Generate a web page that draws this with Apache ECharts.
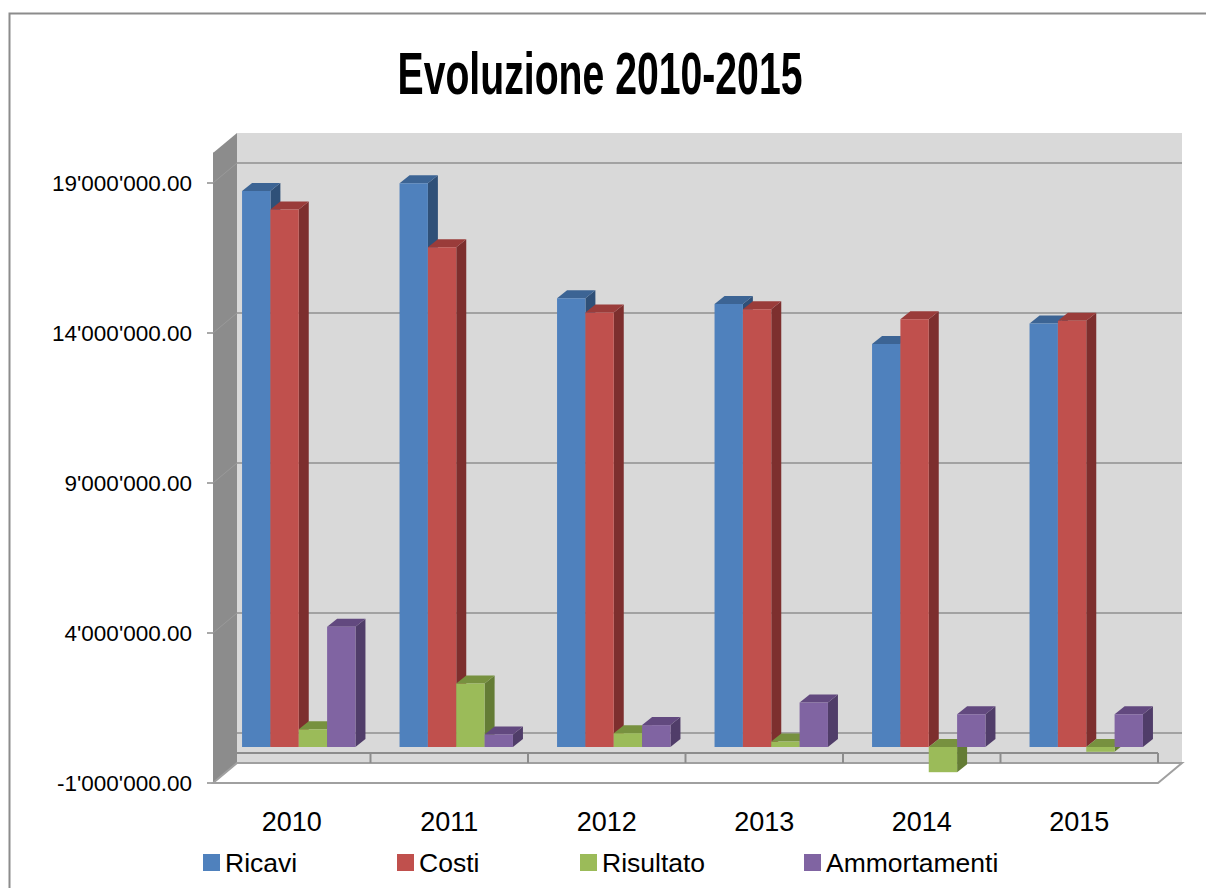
<!DOCTYPE html>
<html>
<head>
<meta charset="utf-8">
<title>Evoluzione 2010-2015</title>
<script src="https://cdn.jsdelivr.net/npm/echarts@6/dist/echarts.min.js"></script>
<style>
  html, body { margin: 0; padding: 0; background: #ffffff; }
  #chart { width: 1206px; height: 888px; }
</style>
</head>
<body>
<div id="chart"></div>
<script>
// ---- data ----
const TITLE = 'Evoluzione 2010-2015';
const YEARS = ['2010', '2011', '2012', '2013', '2014', '2015'];
const SERIES_NAMES = ['Ricavi', 'Costi', 'Risultato', 'Ammortamenti'];
const RICAVI = [18530000, 18790000, 14960000, 14770000, 13430000, 14120000];
const COSTI = [17920000, 16660000, 14480000, 14590000, 14260000, 14210000];
const RISULTATO = [590000, 2120000, 460000, 180000, -840000, -160000];
const AMMORTAMENTI = [4010000, 420000, 730000, 1480000, 1090000, 1090000];
const Y_TICKS = [-1000000, 4000000, 9000000, 14000000, 19000000];
const AXIS_MIN = -1000000;
const AXIS_MAX = 20000000;

const SERIES_VALUES = [RICAVI, COSTI, RISULTATO, AMMORTAMENTI];

// face colours: front, top, side
const FACES = [
  ['#4F81BD', '#3C6494', '#2F5078'],
  ['#C0504D', '#9A3C3A', '#7D2F2E'],
  ['#9BBB59', '#77913F', '#647C35'],
  ['#8064A2', '#62497F', '#503D69']
];

// 3D projection offsets (pixels)
const WALL_DX = 24, WALL_DY = -20;     // front plane -> back wall
const BAR_DX = 7, BAR_DY = -6;         // front plane -> bar front face
const BAR_DEPTH_DX = 10, BAR_DEPTH_DY = -8;

// pick a condensed face when it exists
function hasFont(name) {
  const ctx = document.createElement('canvas').getContext('2d');
  const sample = 'Ammortamenti 2010 Risultato';
  ctx.font = '40px monospace';
  const a = ctx.measureText(sample).width;
  ctx.font = '40px "' + name + '", monospace';
  const b = ctx.measureText(sample).width;
  return Math.abs(a - b) > 0.5;
}
const HAS_NARROW = hasFont('Liberation Sans Narrow');
const NARROW = HAS_NARROW ? '"Liberation Sans Narrow", "Liberation Sans", Arial, sans-serif'
                          : '"Liberation Sans", Arial, sans-serif';
const BASE = '"Liberation Sans", Arial, sans-serif';
const CAT_FONT = HAS_NARROW ? 31 : 27;
const LEGEND_FONT = HAS_NARROW ? 30 : 26.5;

function measure(font, text) {
  const ctx = document.createElement('canvas').getContext('2d');
  ctx.font = font;
  return ctx.measureText(text).width;
}
const TITLE_FONT_SIZE = 60;
const titleWidth = measure('bold ' + TITLE_FONT_SIZE + 'px "Liberation Sans", Arial, sans-serif', TITLE);
const TITLE_SCALE = 405 / titleWidth;

function fmtNumber(v) {
  const neg = v < 0;
  const s = Math.round(Math.abs(v)).toString().replace(/\B(?=(\d{3})+(?!\d))/g, "'");
  return (neg ? '-' : '') + s + '.00';
}

// ---- walls, floor, gridlines ----
function renderWalls(params, api) {
  const cs = params.coordSys;
  const L = cs.x, R = cs.x + cs.width;
  const yOf = v => api.coord([0, v])[1];
  const yMin = yOf(AXIS_MIN), yMax = yOf(AXIS_MAX), y0 = yOf(0);
  const band = cs.width / YEARS.length;
  const children = [];

  children.push({
    type: 'rect',
    shape: { x: L + WALL_DX, y: yMax + WALL_DY, width: R - L, height: yMin - yMax },
    style: { fill: '#D9D9D9' }
  });
  Y_TICKS.concat([0]).forEach(v => {
    const y = yOf(v) + WALL_DY;
    children.push({
      type: 'line',
      shape: { x1: L + WALL_DX, y1: y, x2: R + WALL_DX, y2: y },
      style: { stroke: '#8F8F8F', lineWidth: 1.6 }
    });
  });
  children.push({
    type: 'polygon',
    shape: { points: [[L, yMax], [L + WALL_DX, yMax + WALL_DY], [L + WALL_DX, yMin + WALL_DY], [L, yMin]] },
    style: { fill: '#8C8C8C' }
  });
  Y_TICKS.forEach(v => {
    const y = yOf(v);
    children.push({
      type: 'line',
      shape: { x1: L, y1: y, x2: L + WALL_DX, y2: y + WALL_DY },
      style: { stroke: '#9A9A9A', lineWidth: 1 }
    });
  });
  children.push({
    type: 'polygon',
    shape: { points: [[L, yMin], [L + WALL_DX, yMin + WALL_DY], [R + WALL_DX, yMin + WALL_DY], [R, yMin]] },
    style: { fill: '#FFFFFF', stroke: '#A0A0A0', lineWidth: 2 }
  });
  children.push({
    type: 'line',
    shape: { x1: L + 2, y1: y0, x2: R, y2: y0 },
    style: { stroke: '#8C8C8C', lineWidth: 2 }
  });
  for (let k = 1; k <= YEARS.length; k++) {
    const x = L + k * band;
    children.push({
      type: 'line',
      shape: { x1: x, y1: y0, x2: x, y2: y0 + 10 },
      style: { stroke: '#8C8C8C', lineWidth: 2 }
    });
  }
  return { type: 'group', children };
}

// ---- 3D columns ----
function makeBarRenderer(s) {
  const [front, top, side] = FACES[s];
  return function (params, api) {
    const i = api.value(0), v = api.value(1);
    const band = api.size([1, 0])[0];
    const bw = band * 0.18;
    const cx = api.coord([i, 0])[0];
    const yTop = api.coord([i, Math.max(v, 0)])[1] + BAR_DY;
    const yBot = api.coord([i, Math.min(v, 0)])[1] + BAR_DY;
    const x0 = cx - 2 * bw + s * bw + BAR_DX;
    const x1 = x0 + bw;
    const ddx = BAR_DEPTH_DX, ddy = BAR_DEPTH_DY;
    return {
      type: 'group',
      children: [
        { type: 'polygon', shape: { points: [[x1, yTop], [x1 + ddx, yTop + ddy], [x1 + ddx, yBot + ddy], [x1, yBot]] },
          style: { fill: side } },
        { type: 'polygon', shape: { points: [[x0, yTop], [x1, yTop], [x1 + ddx, yTop + ddy], [x0 + ddx, yTop + ddy]] },
          style: { fill: top } },
        { type: 'rect', shape: { x: x0, y: yTop, width: bw, height: Math.max(yBot - yTop, 0.5) },
          style: { fill: front } }
      ]
    };
  };
}

const LEGEND_LEFT = [203, 397, 580, 804];

const option = {
  backgroundColor: '#FFFFFF',
  animation: false,
  grid: { left: 213, right: 48, top: 153, bottom: 105, containLabel: false },
  xAxis: {
    type: 'category',
    data: YEARS,
    axisLine: { show: false },
    axisTick: { show: false },
    splitLine: { show: false },
    axisLabel: { color: '#000', fontFamily: NARROW, fontSize: CAT_FONT, margin: 25, lineHeight: CAT_FONT }
  },
  yAxis: {
    type: 'value',
    min: AXIS_MIN,
    max: AXIS_MAX,
    splitLine: { show: false },
    axisLine: { show: true, lineStyle: { color: '#8C8C8C', width: 1 } },
    axisTick: { show: true, customValues: Y_TICKS, length: 6, lineStyle: { color: '#8C8C8C', width: 1.5 } },
    axisLabel: {
      customValues: Y_TICKS,
      color: '#000',
      fontFamily: BASE,
      fontSize: 22.5,
      margin: 21,
      formatter: fmtNumber
    }
  },
  legend: SERIES_NAMES.map((name, s) => ({
    data: [name],
    left: LEGEND_LEFT[s],
    top: 849,
    padding: 0,
    icon: 'rect',
    itemWidth: 17,
    itemHeight: 17,
    itemGap: 6,
    selectedMode: false,
    textStyle: { color: '#000', fontFamily: NARROW, fontSize: LEGEND_FONT }
  })),
  graphic: [
    {
      type: 'text',
      x: 600,
      y: 73,
      scaleX: TITLE_SCALE,
      silent: true,
      style: {
        text: TITLE,
        fontFamily: BASE,
        fontWeight: 'bold',
        fontSize: TITLE_FONT_SIZE,
        fill: '#000',
        align: 'center',
        verticalAlign: 'middle',
        textAlign: 'center',
        textVerticalAlign: 'middle'
      }
    },
    {
      type: 'rect',
      silent: true,
      z: 100,
      shape: { x: 9.5, y: 13.5, width: 1400, height: 1000 },
      style: { fill: 'none', stroke: '#8C8C8C', lineWidth: 2 }
    }
  ],
  series: [
    {
      type: 'custom',
      name: 'walls',
      silent: true,
      z: 1,
      data: [[0, 0]],
      renderItem: renderWalls
    }
  ].concat(SERIES_NAMES.map((name, s) => ({
    type: 'custom',
    name: name,
    z: 2,
    itemStyle: { color: FACES[s][0] },
    data: SERIES_VALUES[s].map((v, i) => [i, v]),
    renderItem: makeBarRenderer(s)
  })))
};

const chart = echarts.init(document.getElementById('chart'), null, { renderer: 'svg' });
chart.setOption(option);
</script>
</body>
</html>
